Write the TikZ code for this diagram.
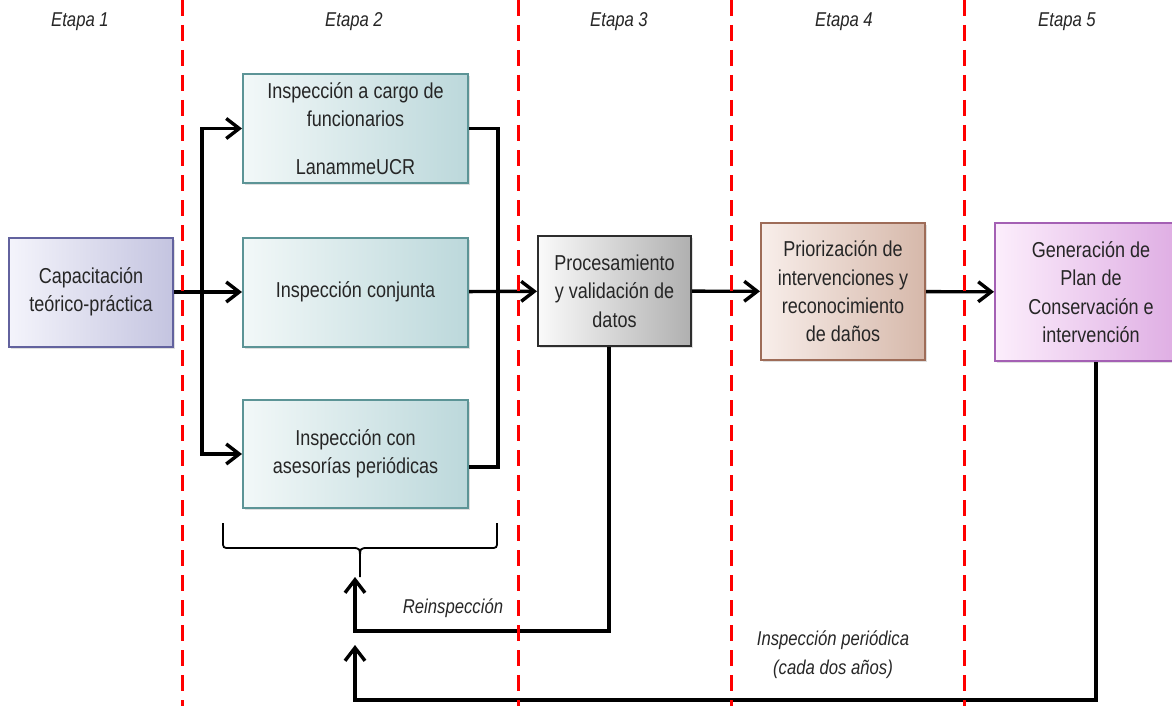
\documentclass[tikz,border=0pt]{standalone}
\usepackage{fontspec}
\setmainfont{Liberation Sans}[FakeStretch=0.835]
\usetikzlibrary{arrows.meta,shadows}

\definecolor{capL}{RGB}{244,244,251}
\definecolor{capR}{RGB}{196,196,224}
\definecolor{capB}{RGB}{98,98,158}
\definecolor{insL}{RGB}{242,248,248}
\definecolor{insR}{RGB}{188,216,219}
\definecolor{insB}{RGB}{92,148,150}
\definecolor{procL}{RGB}{250,250,250}
\definecolor{procR}{RGB}{176,176,176}
\definecolor{procB}{RGB}{45,45,45}
\definecolor{prioL}{RGB}{248,238,234}
\definecolor{prioR}{RGB}{214,184,170}
\definecolor{prioB}{RGB}{158,108,88}
\definecolor{genL}{RGB}{252,238,252}
\definecolor{genR}{RGB}{221,170,226}
\definecolor{genB}{RGB}{164,96,180}

\begin{document}
\begin{tikzpicture}[x=0.5pt, y=-0.5pt,
  box/.style = {draw, line width=1pt, inner sep=0pt, align=center,
    font=\fontsize{10.8pt}{14.2pt}\selectfont, text=black!85,
    drop shadow={opacity=0.25, shadow xshift=1.2pt, shadow yshift=-1.2pt}},
  capbox/.style = {box, draw=capB, left color=capL, right color=capR, minimum width=82pt, minimum height=54.5pt},
  insbox/.style = {box, draw=insB, left color=insL, right color=insR, minimum width=112.5pt, minimum height=54.5pt},
  stage/.style = {font=\fontsize{10pt}{14.5pt}\selectfont\itshape, text=black!85, align=center, inner sep=0pt},
  stage line/.style = {red, line width=1.5pt, dash pattern=on 8pt off 4.5pt},
  link/.style = {line width=1.7pt},
  flow/.style = {link, -{Straight Barb[length=6.5pt, width=10pt]}}]
  \useasboundingbox (0,0) rectangle (1172,706);

  % etapas
  \node[stage] (e1) at (80,22) {Etapa 1};
  \node[stage] (e2) at (354,22) {Etapa 2};
  \node[stage] (e3) at (619,22) {Etapa 3};
  \node[stage] (e4) at (844,22) {Etapa 4};
  \node[stage] (e5) at (1067,22) {Etapa 5};

  % cajas
  \node[capbox] (cap) at (91,292) {Capacitación\\teórico-práctica};
  \node[insbox] (ins1) at (355.5,128.5) {Inspección a cargo de\\funcionarios\\[9.5pt]LanammeUCR};
  \node[insbox] (ins2) at (355.5,292) {Inspección conjunta};
  \node[insbox, minimum height=54pt] (ins3) at (355.5,454) {Inspección con\\asesorías periódicas};
  \node[box, draw=procB, left color=procL, right color=procR, minimum width=76.5pt, minimum height=55pt] (proc) at (614.5,291) {Procesamiento\\y validación de\\datos};
  \node[box, draw=prioB, left color=prioL, right color=prioR, minimum width=82pt, minimum height=68.5pt] (prio) at (843,291.5) {Priorización de\\intervenciones y\\reconocimiento\\de daños};
  \node[box, draw=genB, left color=genL, right color=genR, minimum width=96pt, minimum height=69pt] (gen) at (1091,292) {Generación de\\Plan de\\Conservación e\\intervención};

  \coordinate (lbus) at (202,292);
  \coordinate (rbus) at (498,292);
  \coordinate (reins) at (355,577);
  \coordinate (period) at (355,645);

  % flechas
  \draw[flow] (cap) -- (ins2);
  \draw[flow] (lbus) |- (ins1.west);
  \draw[flow] (lbus) |- (ins3.west);
  \draw[link] (ins1.east) -| (rbus);
  \draw[link] ([yshift=-6.5pt]ins3.east) -| (rbus);
  \draw[flow] (ins2) -- (proc);
  \draw[flow] (proc) -- (prio);
  \draw[flow] (prio) -- (gen);

  \draw[flow] ([xshift=-2.75pt]proc.south) -- ++(0,284) -| (reins);
  \draw[flow] ([xshift=2.5pt]gen.south) -- ++(0,338) -| (period);

  % llave
  \draw[line width=0.9pt] (223,523) -- (223,541) .. controls (223,548) .. (230,548) -- (352,548)
    .. controls (360,548) .. (360,560) -- (360,577);
  \draw[line width=0.9pt] (497,523) -- (497,541) .. controls (497,548) .. (490,548) -- (368,548)
    .. controls (360,548) .. (360,560);

  \node[stage] (lreins) at (453,608) {Reinspección};
  \node[stage] (lperiod) at (833,655) {Inspección periódica\\(cada dos años)};

  % divisiones
  \draw[stage line] (182,0) -- (182,706);
  \draw[stage line] (518,0) -- (518,706);
  \draw[stage line] (731,0) -- (731,706);
  \draw[stage line] (964,0) -- (964,706);
\end{tikzpicture}
\end{document}
